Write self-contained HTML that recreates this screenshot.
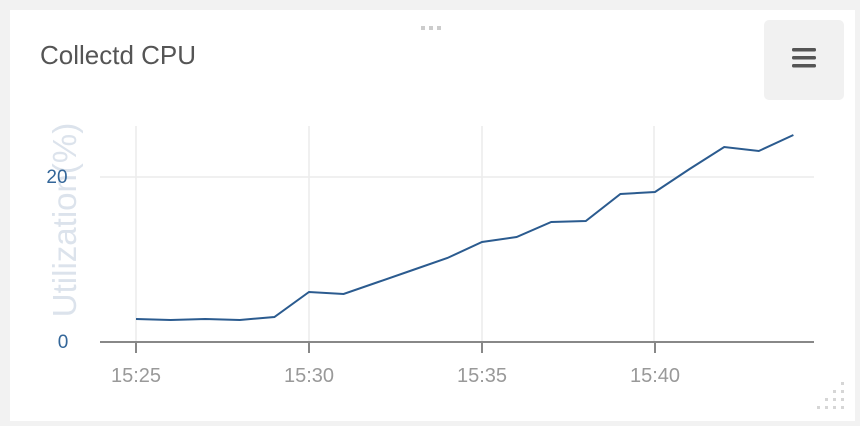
<!DOCTYPE html><html><head><style>body{margin:0;width:860px;height:426px;background:#f2f2f2;overflow:hidden;font-family:"Liberation Sans",sans-serif}</style></head><body>
<svg width="860" height="426" xmlns="http://www.w3.org/2000/svg" style="position:absolute;left:0;top:0">
<rect x="10" y="10" width="845" height="411" fill="#fff"/>
<g fill="#ccc"><rect x="421" y="26" width="4" height="4"/><rect x="429" y="26" width="4" height="4"/><rect x="437" y="26" width="4" height="4"/></g>
<text x="40" y="64" font-size="26" fill="#555">Collectd CPU</text>
<rect x="764" y="20" width="80" height="80" rx="5" fill="#f1f1f1"/>
<g fill="#555"><rect x="792" y="48" width="24" height="3.5" rx="1.5"/><rect x="792" y="56" width="24" height="3.5" rx="1.5"/><rect x="792" y="64" width="24" height="3.5" rx="1.5"/></g>
<g stroke="#ececec" stroke-width="1.5"><line x1="136" y1="126" x2="136" y2="342"/><line x1="309" y1="126" x2="309" y2="342"/><line x1="482" y1="126" x2="482" y2="342"/><line x1="654" y1="126" x2="654" y2="342"/><line x1="100" y1="177" x2="814" y2="177"/></g>
<text transform="translate(76,220) rotate(-90)" font-size="33" fill="#dce3ec" text-anchor="middle">Utilization(%)</text>
<text x="57" y="183" font-size="19" fill="#336699" text-anchor="middle">20</text>
<text x="63" y="348" font-size="19" fill="#336699" text-anchor="middle">0</text>
<g stroke="#888" stroke-width="2"><line x1="100" y1="342" x2="814" y2="342"/><line x1="136" y1="342" x2="136" y2="353"/><line x1="309" y1="342" x2="309" y2="353"/><line x1="482" y1="342" x2="482" y2="353"/><line x1="655" y1="342" x2="655" y2="353"/></g>
<g font-size="20" fill="#999" text-anchor="middle"><text x="136" y="382">15:25</text><text x="309" y="382">15:30</text><text x="482" y="382">15:35</text><text x="655" y="382">15:40</text></g>
<polyline fill="none" stroke="#2b5b8f" stroke-width="2" points="136,319 170.6,320 205.2,319 239.8,320 274.4,317 309,292 343.6,294 378.2,282 412.8,270 447.4,258 482,242 516.6,237 551.2,222 585.8,221 620.4,194 655,192 689.6,169 724.2,147 758.8,151 793.4,135"/>
<g fill="#d6d6d6"><rect x="841" y="382" width="3" height="3"/><rect x="833" y="390" width="3" height="3"/><rect x="841" y="390" width="3" height="3"/><rect x="825" y="398" width="3" height="3"/><rect x="833" y="398" width="3" height="3"/><rect x="841" y="398" width="3" height="3"/><rect x="817" y="406" width="3" height="3"/><rect x="825" y="406" width="3" height="3"/><rect x="833" y="406" width="3" height="3"/><rect x="841" y="406" width="3" height="3"/></g>
</svg></body></html>
